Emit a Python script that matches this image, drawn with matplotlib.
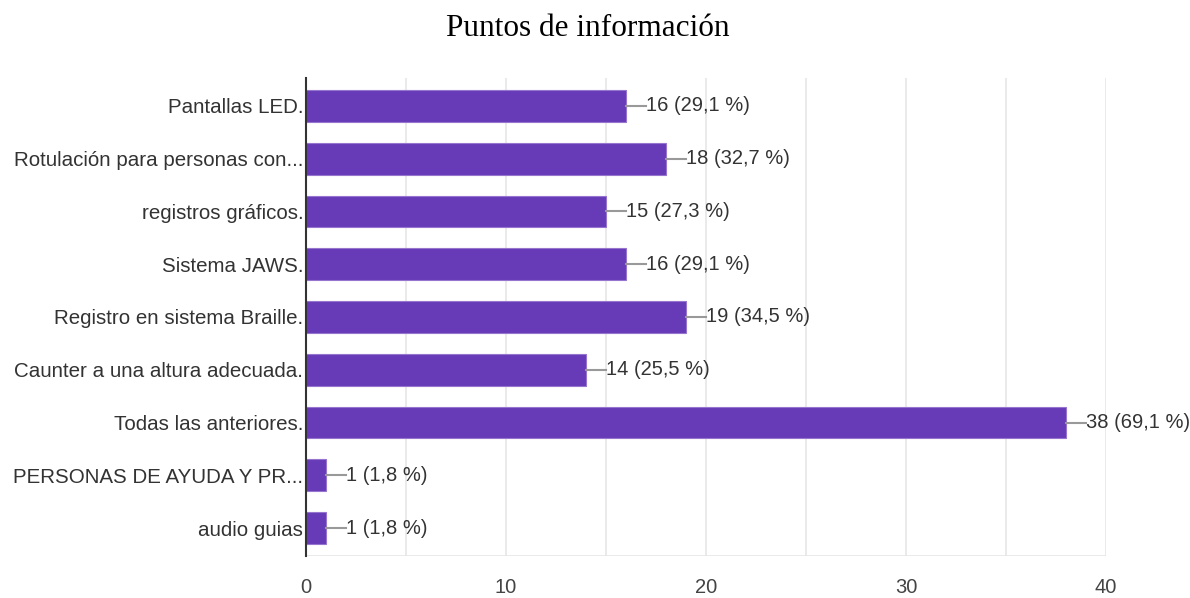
import matplotlib
matplotlib.use("Agg")
import matplotlib.pyplot as plt
from matplotlib import font_manager

categories = ["Pantallas LED.", "Rotulación para personas con...", "registros gráficos.",
              "Sistema JAWS.", "Registro en sistema Braille.", "Caunter a una altura adecuada.",
              "Todas las anteriores.", "PERSONAS DE AYUDA Y PR...", "audio guias"]
values = [16, 18, 15, 16, 19, 14, 38, 1, 1]
labels = ["16 (29,1 %)", "18 (32,7 %)", "15 (27,3 %)", "16 (29,1 %)", "19 (34,5 %)",
          "14 (25,5 %)", "38 (69,1 %)", "1 (1,8 %)", "1 (1,8 %)"]
xticks = [0, 10, 20, 30, 40]

names = {f.name for f in font_manager.fontManager.ttflist}
narrow = "Liberation Sans Narrow" if "Liberation Sans Narrow" in names else "Liberation Sans"

fig = plt.figure(figsize=(11.9, 5.98), dpi=100)
ax = fig.add_axes([306/1190, 1-556/598, 800/1190, 478/598])

y = list(range(len(categories)))
ax.barh(y, values, height=0.6, color="#673AB7", edgecolor="#9575CD", linewidth=0.8, zorder=3)
for yi, v, lab in zip(y, values, labels):
    ax.plot([v, v + 1.0], [yi, yi], color="#999999", lw=1.5, zorder=3, clip_on=False)
    ax.text(v + 1.0, yi, lab, va="center", ha="left", fontsize=14.5, color="#333333",
            family=narrow, zorder=4, clip_on=False)

ax.set_xlim(0, 40)
ax.set_ylim(8.53, -0.53)
ax.set_yticks(y)
ax.set_yticklabels(categories, family=narrow, fontsize=14.8, color="#333333")
ax.set_xticks(xticks)
ax.set_xticklabels([str(t) for t in xticks], family=narrow, fontsize=14.5, color="#444444")
for gx in range(5, 41, 5):
    ax.axvline(gx, color="#e6e6e6", lw=1.2, zorder=1)
ax.tick_params(axis="both", length=0)
ax.tick_params(axis="x", pad=16)
ax.tick_params(axis="y", pad=2)
for s in ["top", "right", "bottom"]:
    ax.spines[s].set_visible(False)
ax.spines["left"].set_color("#333333")
ax.spines["left"].set_linewidth(1.5)
ax.spines["left"].set_zorder(5)
ax.axhline(8.53, color="#e6e6e6", lw=1.2, zorder=1)

fig.text(588/1190, 1-29/598, "Puntos de información", ha="center", va="center",
         fontsize=22.5, family="Liberation Serif", color="black")

fig.savefig("out.png", dpi=100)
